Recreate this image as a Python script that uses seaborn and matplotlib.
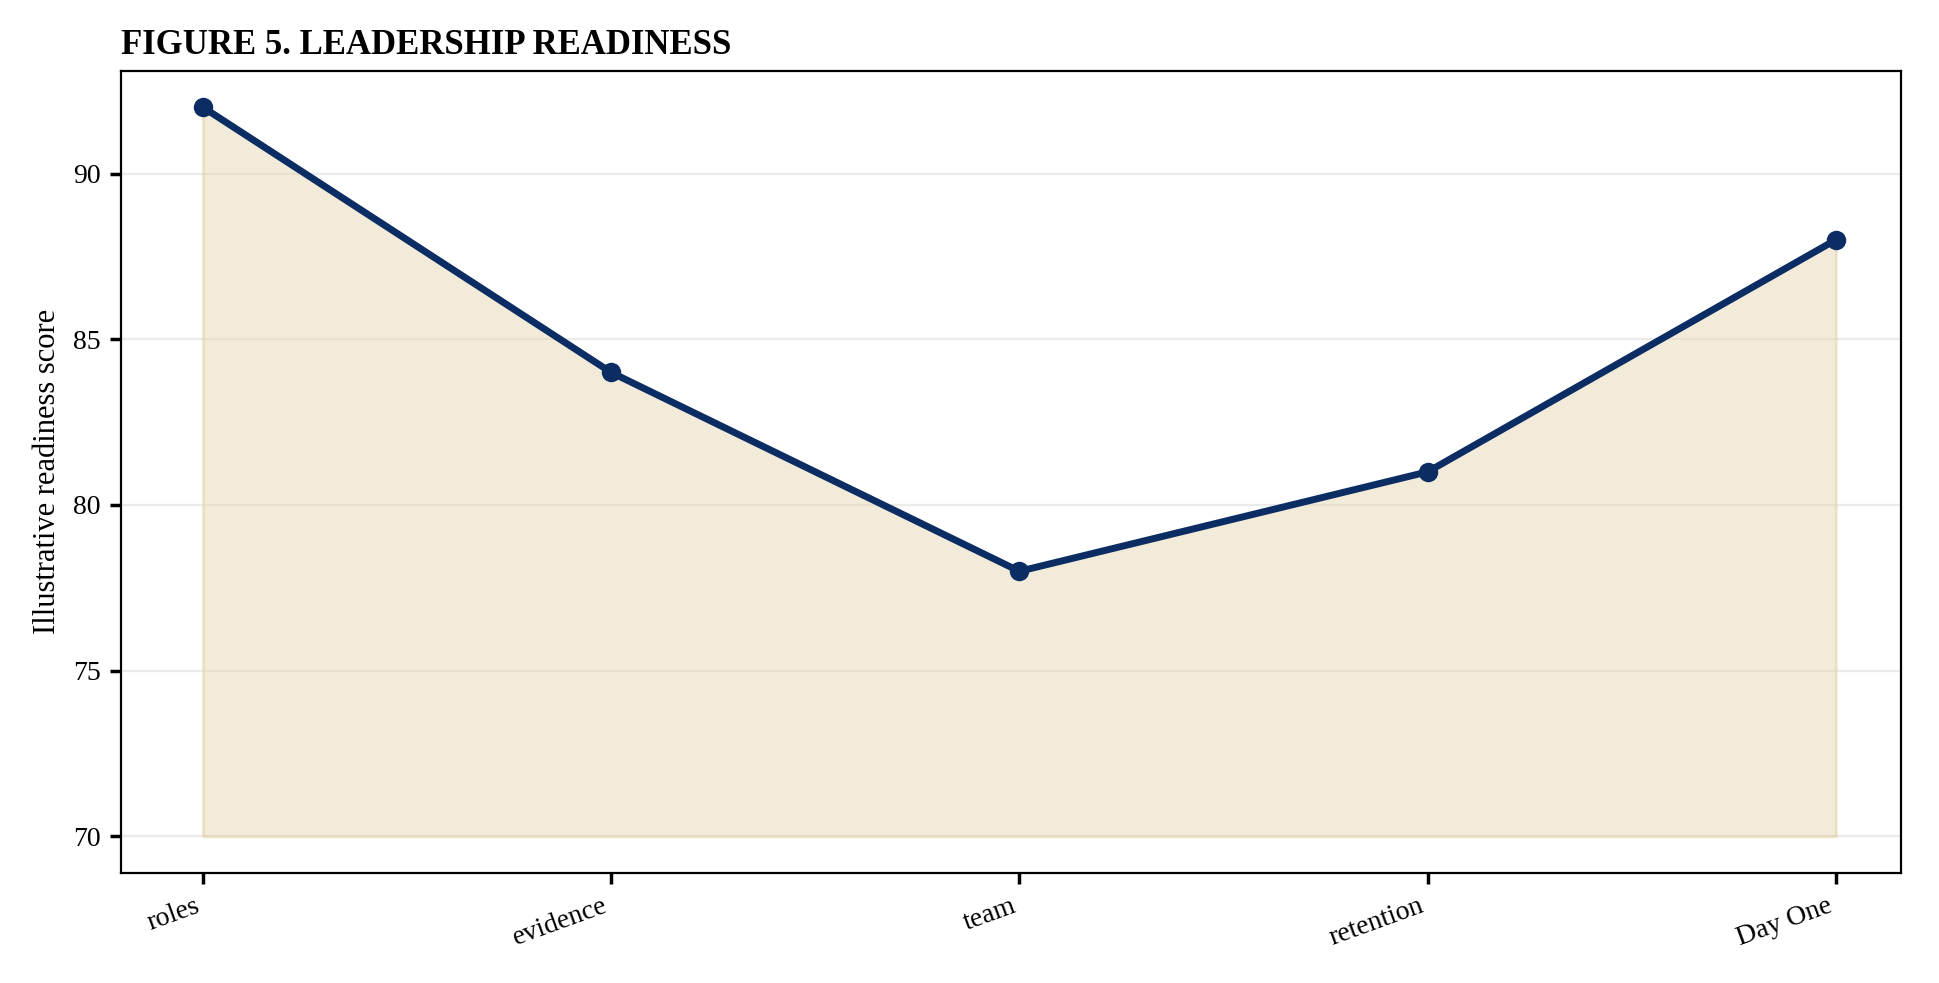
import matplotlib
matplotlib.use("Agg")
import matplotlib.pyplot as plt
import seaborn as sns
import pandas as pd

categories = ["roles", "evidence", "team", "retention", "Day One"]
scores = [92, 84, 78, 81, 88]
baseline = 70

sns.set_theme(style="white")
plt.rcParams['font.family'] = ['Liberation Serif', 'DejaVu Serif']
plt.rcParams['text.color'] = 'black'
plt.rcParams['axes.labelcolor'] = 'black'
plt.rcParams['xtick.color'] = 'black'
plt.rcParams['ytick.color'] = 'black'

df = pd.DataFrame({"x": range(len(categories)), "score": scores})
fig = plt.figure(figsize=(9.7, 4.915), dpi=200)
ax = fig.add_axes([0.0625, 0.112, 0.9175, 0.816])
ax.fill_between(df["x"], baseline, df["score"], color="#e8d9b5", alpha=0.5, linewidth=1, edgecolor="#e0cfa0")
sns.lineplot(data=df, x="x", y="score", ax=ax, color="#0b2d63", linewidth=2.5, marker="o", markersize=7, markeredgewidth=0)
ax.set_xticks(df["x"])
ax.set_xticklabels(categories, rotation=20, ha="right", fontsize=10)
ax.tick_params(axis="y", labelsize=10, left=True, length=4)
ax.tick_params(axis="x", bottom=True, length=4)
ax.set_yticks([70, 75, 80, 85, 90])
ax.set_ylim(68.9, 93.1)
ax.set_xlim(-0.2, 4.16)
ax.grid(axis="y", color="#ebebeb", linewidth=0.8)
ax.set_axisbelow(True)
for s in ax.spines.values():
    s.set_color("black"); s.set_linewidth(0.8)
ax.set_xlabel("")
ax.set_ylabel("Illustrative readiness score", fontsize=11)
ax.set_title("FIGURE 5. LEADERSHIP READINESS", loc="left", fontweight="bold", fontsize=12.5, color="black")
fig.savefig("out.png", dpi=200)
